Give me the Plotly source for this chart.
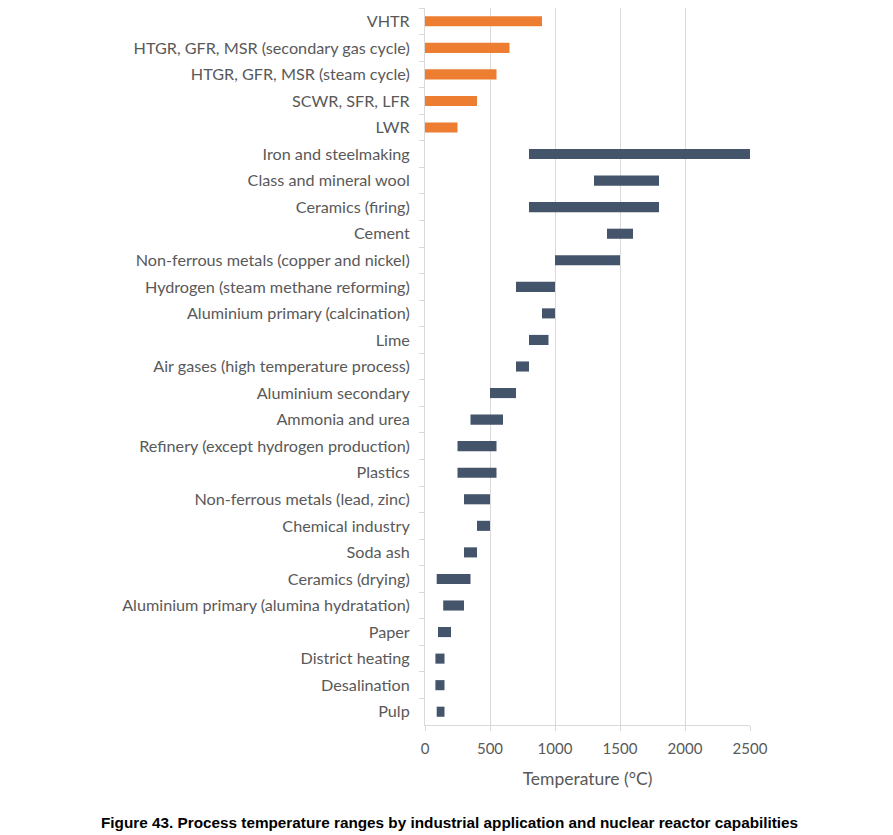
import plotly.graph_objects as go

categories = [
    "VHTR",
    "HTGR, GFR, MSR (secondary gas cycle)",
    "HTGR, GFR, MSR (steam cycle)",
    "SCWR, SFR, LFR",
    "LWR",
    "Iron and steelmaking",
    "Class and mineral wool",
    "Ceramics (firing)",
    "Cement",
    "Non-ferrous metals (copper and nickel)",
    "Hydrogen (steam methane reforming)",
    "Aluminium primary (calcination)",
    "Lime",
    "Air gases (high temperature process)",
    "Aluminium secondary",
    "Ammonia and urea",
    "Refinery (except hydrogen production)",
    "Plastics",
    "Non-ferrous metals (lead, zinc)",
    "Chemical industry",
    "Soda ash",
    "Ceramics (drying)",
    "Aluminium primary (alumina hydratation)",
    "Paper",
    "District heating",
    "Desalination",
    "Pulp",
]
temp_min = [0, 0, 0, 0, 0,
            800, 1300, 800, 1400, 1000, 700, 900, 800, 700, 500,
            350, 250, 250, 300, 400, 300, 90, 140, 100, 80, 80, 90]
temp_max = [900, 650, 550, 400, 250,
            2500, 1800, 1800, 1600, 1500, 1000, 1000, 950, 800, 700,
            600, 550, 550, 500, 500, 400, 350, 300, 200, 150, 150, 150]
is_reactor = [True] * 5 + [False] * 22
x_ticks = [0, 500, 1000, 1500, 2000, 2500]

ORANGE = "#ED7D31"
NAVY = "#44546A"

fig = go.Figure()
fig.add_trace(go.Bar(
    y=categories,
    x=[b - a for a, b in zip(temp_min, temp_max)],
    base=temp_min,
    orientation="h",
    marker=dict(color=[ORANGE if r else NAVY for r in is_reactor], line=dict(width=0)),
    width=0.38,
    showlegend=False,
))

fig.update_layout(
    width=893, height=835,
    margin=dict(l=425, r=143, t=8, b=110),
    plot_bgcolor="white", paper_bgcolor="white",
    font=dict(family="Lato, Open Sans, sans-serif", size=16, color="#595959"),
    xaxis=dict(
        range=[0, 2500], tickvals=x_ticks,
        showgrid=True, gridcolor="#D9D9D9", gridwidth=1,
        showline=True, linecolor="#D9D9D9", linewidth=1,
        ticks="outside", ticklen=5, tickcolor="#D9D9D9",
        ticklabelstandoff=5,
        tickfont=dict(size=15, color="#595959"),
        title=dict(text="Temperature (°C)", font=dict(size=17.5, color="#595959"), standoff=16),
        zeroline=False,
    ),
    yaxis=dict(
        categoryorder="array", categoryarray=categories,
        autorange="reversed",
        showline=True, linecolor="#D9D9D9", linewidth=1,
        ticks="outside", ticklen=5, tickcolor="#D9D9D9", tickson="boundaries",
        tickfont=dict(size=16.2, color="#595959"),
        ticklabelstandoff=11,
        showgrid=False,
    ),
    annotations=[dict(
        text="<b>Figure 43. Process temperature ranges by industrial application and nuclear reactor capabilities</b>",
        x=(449 - 425) / (750 - 425), xanchor="center",
        y=-(822 - 725) / (725 - 8), yanchor="middle",
        xref="paper", yref="paper", showarrow=False,
        font=dict(family="Liberation Sans, Arial", size=15.3, color="black"),
    )],
)

fig.write_html("out.html", config={"displayModeBar": False},
               post_script="document.body.style.margin='0';")
